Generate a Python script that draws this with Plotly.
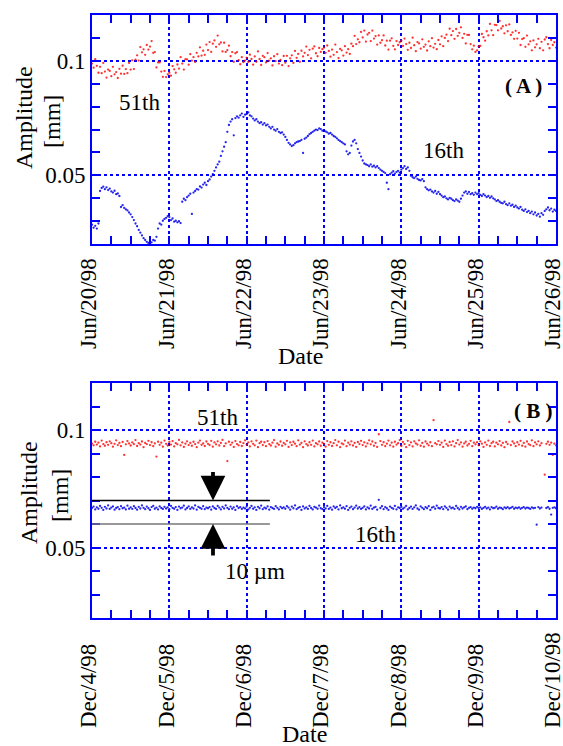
import plotly.graph_objects as go
import pandas as pd

# ---------------- DATA ----------------
start_a = "1998-06-20"
start_b = "1998-12-04"
n_points = 289          # one reading every 30 min over six days
sample_freq = "30min"

# Panel A, 16th harmonic amplitude [mm]
amp16_a = [
    0.0285, 0.0272, 0.0280, 0.0268, 0.0290, 0.0432, 0.0445, 0.0451, 0.0440, 0.0448, 0.0436, 0.0442, 0.0430, 0.0425, 0.0433, 0.0418, 0.0421, 0.0410, 0.0362, 0.0370, 0.0358, 0.0352, 0.0347, 0.0338,
    0.0330, 0.0318, 0.0305, 0.0290, 0.0278, 0.0262, 0.0250, 0.0238, 0.0226, 0.0218, 0.0210, 0.0205, 0.0212, 0.0208, 0.0218, 0.0215, 0.0232, 0.0268, 0.0290, 0.0285, 0.0302, 0.0310, 0.0315, 0.0322,
    0.0318, 0.0305, 0.0312, 0.0298, 0.0302, 0.0295, 0.0300, 0.0292, 0.0385, 0.0398, 0.0392, 0.0405, 0.0412, 0.0420, 0.0332, 0.0425, 0.0432, 0.0440, 0.0438, 0.0452, 0.0447, 0.0460, 0.0468, 0.0458,
    0.0475, 0.0482, 0.0495, 0.0505, 0.0520, 0.0535, 0.0548, 0.0560, 0.0585, 0.0605, 0.0625, 0.0645, 0.0690, 0.0720, 0.0735, 0.0745, 0.0675, 0.0750, 0.0758, 0.0752, 0.0762, 0.0770, 0.0755, 0.0765,
    0.0768, 0.0775, 0.0762, 0.0758, 0.0748, 0.0740, 0.0745, 0.0735, 0.0728, 0.0732, 0.0722, 0.0728, 0.0718, 0.0722, 0.0712, 0.0705, 0.0712, 0.0700, 0.0695, 0.0702, 0.0690, 0.0685, 0.0688, 0.0678,
    0.0668, 0.0655, 0.0642, 0.0635, 0.0628, 0.0632, 0.0640, 0.0645, 0.0648, 0.0650, 0.0655, 0.0598, 0.0660, 0.0665, 0.0672, 0.0680, 0.0685, 0.0690, 0.0695, 0.0700, 0.0698, 0.0705, 0.0702, 0.0695,
    0.0698, 0.0692, 0.0688, 0.0682, 0.0685, 0.0678, 0.0672, 0.0668, 0.0662, 0.0655, 0.0650, 0.0645, 0.0640, 0.0635, 0.0605, 0.0592, 0.0598, 0.0630, 0.0648, 0.0655, 0.0640, 0.0615, 0.0598, 0.0582,
    0.0565, 0.0552, 0.0548, 0.0545, 0.0540, 0.0548, 0.0538, 0.0542, 0.0535, 0.0540, 0.0532, 0.0525, 0.0520, 0.0515, 0.0510, 0.0468, 0.0440, 0.0505, 0.0512, 0.0518, 0.0508, 0.0515, 0.0520, 0.0512,
    0.0525, 0.0532, 0.0540, 0.0528, 0.0535, 0.0520, 0.0498, 0.0492, 0.0488, 0.0495, 0.0485, 0.0480, 0.0478, 0.0484, 0.0475, 0.0448, 0.0440, 0.0435, 0.0438, 0.0430, 0.0425, 0.0432, 0.0420, 0.0428,
    0.0418, 0.0412, 0.0405, 0.0408, 0.0400, 0.0395, 0.0402, 0.0398, 0.0392, 0.0388, 0.0395, 0.0390, 0.0385, 0.0398, 0.0412, 0.0425, 0.0430, 0.0420, 0.0428, 0.0418, 0.0422, 0.0415, 0.0425, 0.0418,
    0.0422, 0.0415, 0.0410, 0.0418, 0.0412, 0.0405, 0.0410, 0.0402, 0.0408, 0.0400, 0.0395, 0.0388, 0.0392, 0.0385, 0.0380, 0.0378, 0.0385, 0.0375, 0.0370, 0.0378, 0.0368, 0.0372, 0.0362, 0.0368,
    0.0360, 0.0355, 0.0362, 0.0350, 0.0345, 0.0352, 0.0340, 0.0345, 0.0335, 0.0342, 0.0330, 0.0338, 0.0325, 0.0332, 0.0320, 0.0335, 0.0328, 0.0345, 0.0352, 0.0360, 0.0348, 0.0355, 0.0342, 0.0350, 0.0345,
]

# Panel A, 51st harmonic amplitude [mm]
amp51_a = [
    0.0988, 0.0970, 0.1007, 0.0978, 0.0948, 0.0974, 0.0946, 0.0991, 0.0953, 0.0927, 0.0962, 0.0956, 0.0933, 0.0974, 0.0941, 0.0951, 0.0925, 0.0965, 0.0944, 0.0979, 0.0943, 0.0964, 0.0946, 0.0991,
    0.0962, 0.1002, 0.0964, 0.1005, 0.1024, 0.1001, 0.1060, 0.1037, 0.1050, 0.1026, 0.1069, 0.1049, 0.1062, 0.1086, 0.1035, 0.1038, 0.0971, 0.0993, 0.0993, 0.0953, 0.0930, 0.0956, 0.0929, 0.0941,
    0.0948, 0.0935, 0.0977, 0.0963, 0.0948, 0.0984, 0.0966, 0.1016, 0.0988, 0.0962, 0.1007, 0.1006, 0.0983, 0.1029, 0.1001, 0.1016, 0.0995, 0.1035, 0.1019, 0.1059, 0.1023, 0.1044, 0.1026, 0.1071,
    0.1047, 0.1082, 0.1039, 0.1075, 0.1089, 0.1061, 0.1110, 0.1072, 0.1080, 0.1041, 0.1079, 0.1039, 0.1047, 0.1066, 0.1020, 0.1038, 0.0996, 0.1033, 0.1038, 0.1003, 0.0985, 0.1016, 0.0994, 0.1001,
    0.1013, 0.0995, 0.1027, 0.1008, 0.0983, 0.1019, 0.0996, 0.1041, 0.1008, 0.0982, 0.1022, 0.1016, 0.0993, 0.1034, 0.1001, 0.1011, 0.0980, 0.1020, 0.0999, 0.1029, 0.0988, 0.1004, 0.0981, 0.1021,
    0.0992, 0.1022, 0.0977, 0.1011, 0.1024, 0.0991, 0.1043, 0.1013, 0.1030, 0.0996, 0.1044, 0.1019, 0.1035, 0.1062, 0.1025, 0.1048, 0.1011, 0.1053, 0.1063, 0.1033, 0.1020, 0.1056, 0.1039, 0.1051,
    0.1058, 0.1035, 0.1067, 0.1043, 0.1018, 0.1049, 0.1026, 0.1071, 0.1038, 0.1012, 0.1052, 0.1046, 0.1023, 0.1064, 0.1036, 0.1051, 0.1030, 0.1075, 0.1064, 0.1109, 0.1073, 0.1094, 0.1081, 0.1126,
    0.1102, 0.1132, 0.1084, 0.1115, 0.1122, 0.1086, 0.1132, 0.1097, 0.1108, 0.1071, 0.1111, 0.1079, 0.1090, 0.1111, 0.1067, 0.1088, 0.1049, 0.1088, 0.1098, 0.1065, 0.1050, 0.1086, 0.1069, 0.1081,
    0.1088, 0.1065, 0.1097, 0.1073, 0.1048, 0.1079, 0.1056, 0.1101, 0.1068, 0.1042, 0.1082, 0.1076, 0.1053, 0.1094, 0.1061, 0.1071, 0.1045, 0.1085, 0.1064, 0.1099, 0.1058, 0.1074, 0.1051, 0.1091,
    0.1072, 0.1107, 0.1064, 0.1100, 0.1114, 0.1086, 0.1140, 0.1112, 0.1130, 0.1096, 0.1139, 0.1109, 0.1122, 0.1146, 0.1100, 0.1118, 0.1076, 0.1113, 0.1113, 0.1073, 0.1050, 0.1066, 0.1039, 0.1046,
    0.1063, 0.1065, 0.1117, 0.1103, 0.1088, 0.1129, 0.1111, 0.1161, 0.1133, 0.1112, 0.1157, 0.1156, 0.1133, 0.1174, 0.1141, 0.1151, 0.1120, 0.1155, 0.1129, 0.1159, 0.1113, 0.1124, 0.1096, 0.1131,
    0.1097, 0.1122, 0.1069, 0.1095, 0.1099, 0.1061, 0.1110, 0.1072, 0.1085, 0.1046, 0.1089, 0.1059, 0.1072, 0.1096, 0.1055, 0.1083, 0.1046, 0.1093, 0.1103, 0.1073, 0.1055, 0.1091, 0.1069, 0.1081, 0.1058,
]

# Panel B, 51st harmonic amplitude [mm]
amp51_b = [
    0.0942, 0.0935, 0.0950, 0.0938, 0.0946, 0.0930, 0.0955, 0.0940, 0.0933, 0.0948, 0.0937, 0.0952, 0.0944, 0.0929, 0.0941, 0.0956, 0.0936, 0.0945, 0.0931, 0.0949, 0.0894, 0.0939, 0.0953, 0.0943,
    0.0934, 0.0947, 0.0940, 0.0957, 0.0932, 0.0944, 0.0938, 0.0951, 0.0927, 0.0945, 0.0940, 0.0954, 0.0936, 0.0948, 0.0931, 0.0943, 0.0887, 0.0950, 0.0937, 0.0946, 0.0929, 0.0955, 0.0941, 0.0934,
    0.0949, 0.0938, 0.0953, 0.0930, 0.0944, 0.0939, 0.0958, 0.0935, 0.0947, 0.0928, 0.0942, 0.0952, 0.0936, 0.0945, 0.0933, 0.0950, 0.0940, 0.0927, 0.0946, 0.0955, 0.0937, 0.0943, 0.0932, 0.0951,
    0.0941, 0.0936, 0.0954, 0.0929, 0.0947, 0.0939, 0.0952, 0.0934, 0.0945, 0.0958, 0.0931, 0.0943, 0.0868, 0.0950, 0.0937, 0.0946, 0.0928, 0.0953, 0.0940, 0.0935, 0.0949, 0.0932, 0.0944, 0.0956,
    0.0938, 0.0947, 0.0930, 0.0952, 0.0941, 0.0935, 0.0955, 0.0927, 0.0944, 0.0950, 0.0936, 0.0948, 0.0931, 0.0953, 0.0940, 0.0934, 0.0946, 0.0957, 0.0929, 0.0943, 0.0937, 0.0951, 0.0933, 0.0945,
    0.0939, 0.0954, 0.0928, 0.0947, 0.0936, 0.0950, 0.0942, 0.0931, 0.0956, 0.0938, 0.0945, 0.0927, 0.0952, 0.0940, 0.0934, 0.0948, 0.0937, 0.0955, 0.0930, 0.0944, 0.0939, 0.0951, 0.0933, 0.0946,
    0.0941, 0.0929, 0.0953, 0.0937, 0.0948, 0.0932, 0.0944, 0.0957, 0.0935, 0.0950, 0.0927, 0.0943, 0.0939, 0.0955, 0.0931, 0.0946, 0.0938, 0.0952, 0.0934, 0.0945, 0.0928, 0.0949, 0.0940, 0.0954,
    0.0936, 0.0947, 0.0930, 0.0943, 0.0956, 0.0939, 0.0951, 0.0933, 0.0945, 0.0928, 0.0982, 0.0953, 0.0937, 0.0948, 0.0931, 0.0942, 0.0955, 0.0935, 0.0946, 0.0929, 0.0950, 0.0938, 0.0944, 0.0957,
    0.0932, 0.0949, 0.0940, 0.0927, 0.0954, 0.0936, 0.0947, 0.0930, 0.0952, 0.0943, 0.0938, 0.0956, 0.0933, 0.0945, 0.0929, 0.0951, 0.0942, 0.0935, 0.0948, 0.0931, 0.1042, 0.0944, 0.0939, 0.0953,
    0.0937, 0.0946, 0.0928, 0.0955, 0.0940, 0.0933, 0.0949, 0.0936, 0.0952, 0.0930, 0.0944, 0.0957, 0.0938, 0.0947, 0.0929, 0.0943, 0.0950, 0.0934, 0.0941, 0.0954, 0.0931, 0.0946, 0.0939, 0.0948,
    0.0935, 0.0952, 0.0942, 0.0928, 0.0947, 0.0937, 0.0955, 0.0932, 0.0944, 0.0950, 0.0930, 0.0946, 0.0939, 0.0953, 0.0934, 0.0945, 0.0927, 0.0949, 0.0940, 0.1034, 0.0936, 0.0951, 0.0943, 0.0931,
    0.0948, 0.0938, 0.0954, 0.0933, 0.0945, 0.0929, 0.0951, 0.0940, 0.0936, 0.0956, 0.0931, 0.0947, 0.0939, 0.0952, 0.0934, 0.0944, None, 0.0810, 0.0941, 0.0950, 0.0937, 0.0946, 0.0894, 0.0942, 0.0935,
]

# Panel B, 16th harmonic amplitude [mm]
amp16_b = [
    0.0668, 0.0674, 0.0662, 0.0671, 0.0665, 0.0677, 0.0669, 0.0660, 0.0673, 0.0666, 0.0679, 0.0664, 0.0670, 0.0675, 0.0661, 0.0668, 0.0672, 0.0663, 0.0676, 0.0667, 0.0670, 0.0662, 0.0678, 0.0665,
    0.0671, 0.0664, 0.0676, 0.0668, 0.0661, 0.0673, 0.0666, 0.0679, 0.0669, 0.0663, 0.0674, 0.0667, 0.0660, 0.0672, 0.0677, 0.0665, 0.0670, 0.0662, 0.0675, 0.0668, 0.0664, 0.0673, 0.0666, 0.0671,
    0.0663, 0.0677, 0.0669, 0.0665, 0.0672, 0.0660, 0.0674, 0.0667, 0.0670, 0.0678, 0.0662, 0.0668, 0.0675, 0.0664, 0.0671, 0.0666, 0.0679, 0.0661, 0.0673, 0.0669, 0.0665, 0.0676, 0.0663, 0.0670,
    0.0667, 0.0672, 0.0661, 0.0675, 0.0668, 0.0664, 0.0677, 0.0670, 0.0662, 0.0673, 0.0666, 0.0679, 0.0669, 0.0663, 0.0674, 0.0665, 0.0671, 0.0660, 0.0676, 0.0668, 0.0672, 0.0664, 0.0670, 0.0666,
    0.0674, 0.0662, 0.0669, 0.0677, 0.0665, 0.0671, 0.0660, 0.0673, 0.0667, 0.0678, 0.0663, 0.0670, 0.0666, 0.0675, 0.0661, 0.0672, 0.0668, 0.0664, 0.0676, 0.0669, 0.0662, 0.0673, 0.0667, 0.0671,
    0.0665, 0.0676, 0.0670, 0.0661, 0.0674, 0.0667, 0.0679, 0.0663, 0.0669, 0.0672, 0.0660, 0.0675, 0.0666, 0.0671, 0.0664, 0.0677, 0.0668, 0.0662, 0.0673, 0.0670, 0.0665, 0.0678, 0.0667, 0.0663,
    0.0672, 0.0666, 0.0677, 0.0664, 0.0670, 0.0661, 0.0675, 0.0668, 0.0673, 0.0662, 0.0679, 0.0667, 0.0671, 0.0665, 0.0676, 0.0660, 0.0669, 0.0674, 0.0663, 0.0670, 0.0678, 0.0666, 0.0672, 0.0664,
    0.0669, 0.0675, 0.0662, 0.0671, 0.0666, 0.0678, 0.0664, 0.0670, 0.0673, 0.0661, 0.0703, 0.0668, 0.0676, 0.0663, 0.0672, 0.0667, 0.0660, 0.0674, 0.0669, 0.0665, 0.0677, 0.0662, 0.0671, 0.0668,
    0.0673, 0.0665, 0.0670, 0.0677, 0.0662, 0.0668, 0.0674, 0.0664, 0.0671, 0.0679, 0.0666, 0.0661, 0.0675, 0.0669, 0.0663, 0.0672, 0.0667, 0.0676, 0.0660, 0.0670, 0.0673, 0.0665, 0.0678, 0.0668,
    0.0666, 0.0672, 0.0663, 0.0675, 0.0669, 0.0661, 0.0674, 0.0667, 0.0670, 0.0664, 0.0677, 0.0668, 0.0662, 0.0673, 0.0666, 0.0671, 0.0675, 0.0663, 0.0669, 0.0672, 0.0665, 0.0670, 0.0667, 0.0673,
    0.0668, 0.0671, 0.0664, 0.0669, 0.0673, 0.0666, 0.0670, 0.0662, 0.0672, 0.0667, 0.0669, 0.0674, 0.0665, 0.0670, 0.0668, 0.0663, 0.0671, 0.0667, 0.0672, 0.0666, 0.0669, 0.0673, 0.0665, 0.0670,
    0.0667, 0.0671, 0.0665, 0.0669, 0.0672, 0.0666, 0.0670, 0.0668, 0.0664, 0.0671, 0.0667, 0.0669, 0.0597, 0.0672, 0.0666, 0.0670, None, None, 0.0668, 0.0672, 0.0665, 0.0640, 0.0669, 0.0671, 0.0667,
]

ticks_a = ["1998-06-20", "1998-06-21", "1998-06-22", "1998-06-23", "1998-06-24", "1998-06-25", "1998-06-26"]
ticklabels_a = ["Jun/20/98", "Jun/21/98", "Jun/22/98", "Jun/23/98", "Jun/24/98", "Jun/25/98", "Jun/26/98"]
ticks_b = ["1998-12-04", "1998-12-05", "1998-12-06", "1998-12-07", "1998-12-08", "1998-12-09", "1998-12-10"]
ticklabels_b = ["Dec/4/98", "Dec/5/98", "Dec/6/98", "Dec/7/98", "Dec/8/98", "Dec/9/98", "Dec/10/98"]
y_ticks = [0.05, 0.1]
y_ticklabels = ["0.05", "0.1"]
y_range = [0.02, 0.12]

# 10 um band marker in panel B
band_upper = 0.070
band_lower = 0.060
band_end = "1998-12-06 07:12"
arrow_time = "1998-12-05 13:33"

# ---------------- FIGURE ----------------
time_a = pd.date_range(start_a, periods=n_points, freq=sample_freq)
time_b = pd.date_range(start_b, periods=n_points, freq=sample_freq)

FONT = "Liberation Serif"
BLUE = "#0000ff"
RED_C = "rgba(255,0,0,0.8)"
BLUE_C = "rgba(0,0,235,0.85)"
MS = 2.3

# the reference's Dec labels are aligned at their start: pad shorter ones with a figure space
FIG_SPACE = "\u2007"
ticktext_b = [t if len(t) == max(len(s) for s in ticklabels_b) else t + FIG_SPACE for t in ticklabels_b]

fig = go.Figure()
fig.add_trace(go.Scatter(x=time_a, y=amp51_a, mode="markers", xaxis="x", yaxis="y",
                         marker=dict(size=MS, color=RED_C, line=dict(width=0)), name="51th"))
fig.add_trace(go.Scatter(x=time_a, y=amp16_a, mode="markers", xaxis="x", yaxis="y",
                         marker=dict(size=MS, color=BLUE_C, line=dict(width=0)), name="16th"))
fig.add_trace(go.Scatter(x=time_b, y=amp51_b, mode="markers", xaxis="x2", yaxis="y2",
                         marker=dict(size=MS, color=RED_C, line=dict(width=0)), name="51th"))
fig.add_trace(go.Scatter(x=time_b, y=amp16_b, mode="markers", xaxis="x2", yaxis="y2",
                         marker=dict(size=MS, color=BLUE_C, line=dict(width=0)), name="16th"))

tickfont = dict(family=FONT, size=23, color="black")


def xaxis_cfg(tvals, ttext, start, anchor):
    return dict(
        type="date", domain=[0, 1], anchor=anchor, automargin=False,
        range=[tvals[0], tvals[-1] + " 00:00:01"],
        tickmode="array", tickvals=tvals, ticktext=ttext, tickangle=-90,
        tickfont=tickfont, ticklabeloverflow="allow",
        ticklabelshift=-3, ticklabelstandoff=3,
        ticks="inside", ticklen=8, tickwidth=1.5, tickcolor=BLUE,
        showline=True, linecolor=BLUE, linewidth=2, mirror="ticks",
        showgrid=True, gridcolor=BLUE, gridwidth=2, griddash="dot",
        zeroline=False,
        minor=dict(dtick=6 * 3600 * 1000, tick0=start, ticks="inside", ticklen=8,
                   tickwidth=1.5, tickcolor=BLUE, showgrid=False),
    )


def yaxis_cfg(domain, anchor):
    return dict(
        domain=domain, anchor=anchor, range=y_range, automargin=False,
        tickmode="array", tickvals=y_ticks, ticktext=y_ticklabels,
        tickfont=tickfont, ticklabeloverflow="allow",
        ticks="inside", ticklen=8, tickwidth=1.5, tickcolor=BLUE,
        showline=True, linecolor=BLUE, linewidth=2, mirror="ticks",
        showgrid=True, gridcolor=BLUE, gridwidth=2, griddash="dot",
        zeroline=False,
        minor=dict(dtick=0.01, tick0=0, ticks="inside", ticklen=8,
                   tickwidth=1.5, tickcolor=BLUE, showgrid=False),
    )


txt = dict(family=FONT, size=23, color="black")
title_font = dict(family=FONT, size=24, color="black")
C = dict(xanchor="center", yanchor="middle", showarrow=False)
annotations = [
    # axis titles
    dict(text="Amplitude", xref="paper", yref="paper", x=(24 - 92) / 464, y=(618 - 118) / 603,
         textangle=-90, font=title_font, **C),
    dict(text="[mm]", xref="paper", yref="paper", x=(52 - 92) / 464, y=(618 - 122) / 603,
         textangle=-90, font=title_font, **C),
    dict(text="Amplitude", xref="paper", yref="paper", x=(29 - 92) / 464, y=(618 - 493) / 603,
         textangle=-90, font=title_font, **C),
    dict(text="[mm]", xref="paper", yref="paper", x=(60 - 92) / 464, y=(618 - 496) / 603,
         textangle=-90, font=title_font, **C),
    dict(text="Date", xref="paper", yref="paper", x=0.4504, y=0.4345, font=title_font, **C),
    dict(text="Date", xref="paper", yref="paper", x=0.459, y=(618 - 734) / 603, font=title_font, **C),
    # panel A labels
    dict(text="51th", xref="x", yref="y", x="1998-06-20 14:53", y=0.082, font=txt, **C),
    dict(text="16th", xref="x", yref="y", x="1998-06-24 13:12", y=0.0609, font=txt, **C),
    dict(text="<b>( A )</b>", xref="x", yref="y", x="1998-06-25 13:46", y=0.089,
         font=dict(family=FONT, size=21, color="black"), **C),
    # panel B labels
    dict(text="51th", xref="x2", yref="y2", x="1998-12-05 14:53", y=0.1055, font=txt, **C),
    dict(text="16th", xref="x2", yref="y2", x="1998-12-07 15:50", y=0.0555, font=txt, **C),
    dict(text="<b>( B )</b>", xref="x2", yref="y2", x="1998-12-09 16:52", y=0.108,
         font=dict(family=FONT, size=21, color="black"), **C),
    dict(text="10 µm", xref="x2", yref="y2", x="1998-12-05 16:40", y=0.0398, xanchor="left",
         yanchor="middle", showarrow=False, font=txt),
    # arrows marking the 10 um band
    dict(text="", xref="x2", yref="y2", x=arrow_time, y=band_upper, ax=0, ay=-30,
         showarrow=True, arrowhead=2, arrowsize=1.3, arrowwidth=3.8, arrowcolor="black"),
    dict(text="", xref="x2", yref="y2", x=arrow_time, y=band_lower, ax=0, ay=33,
         showarrow=True, arrowhead=2, arrowsize=1.3, arrowwidth=3.8, arrowcolor="black"),
]

shapes = [
    dict(type="line", xref="x2", yref="y2", x0=ticks_b[0], x1=band_end, y0=band_upper, y1=band_upper,
         line=dict(color="black", width=1.5)),
    dict(type="line", xref="x2", yref="y2", x0=ticks_b[0], x1=band_end, y0=band_lower, y1=band_lower,
         line=dict(color="#777777", width=1.5)),
]

fig.update_layout(
    width=563, height=746,
    margin=dict(l=92, r=7, t=15, b=128, autoexpand=False),
    paper_bgcolor="white", plot_bgcolor="white",
    showlegend=False,
    xaxis=xaxis_cfg(ticks_a, ticklabels_a, start_a, "y"),
    yaxis=yaxis_cfg([0.620, 1.0], "x"),
    xaxis2=xaxis_cfg(ticks_b, ticktext_b, start_b, "y2"),
    yaxis2=yaxis_cfg([0.0, 0.3897], "x2"),
    annotations=annotations,
    shapes=shapes,
    font=dict(family=FONT, color="black"),
)

# remove the browser's default page margin / scrollbars so the figure fills the window exactly
fig.write_html("out.html",
               config={"displayModeBar": False},
               post_script="document.body.style.margin='0';document.body.style.overflow='hidden';")
